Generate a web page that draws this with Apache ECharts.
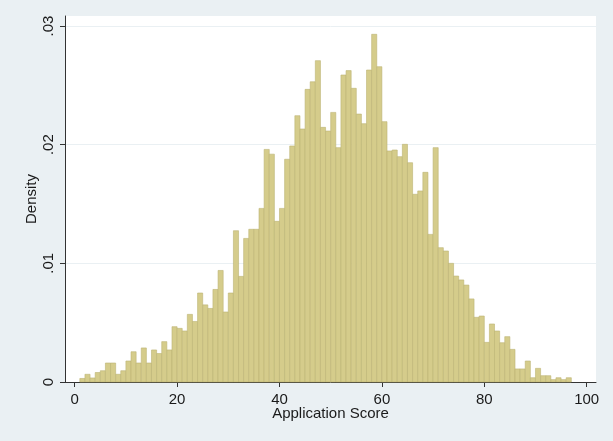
<!DOCTYPE html>
<html>
<head>
<meta charset="utf-8">
<script src="https://cdn.jsdelivr.net/npm/echarts@6/dist/echarts.min.js"></script>
<style>
html,body{margin:0;padding:0;background:#ffffff;}
#chart{width:613px;height:441px;}
</style>
</head>
<body>
<div id="chart"></div>
<script>
// Histogram bins: width 1, starting at each value below
const binStarts = [];
for (let k = 1; k <= 96; k++) binStarts.push(k);
const binWidth = 1;
const densities = [
  0.0003, 0.00065, 0.00034, 0.0008, 0.00095, 0.0016, 0.0016, 0.00065, 0.00095, 0.00177,
  0.00255, 0.0016, 0.00287, 0.0016, 0.0027, 0.0024, 0.0034, 0.0027, 0.00466, 0.00452,
  0.0043, 0.0057, 0.0051, 0.0075, 0.0065, 0.0062, 0.0078, 0.0094, 0.0059, 0.0075,
  0.01275, 0.0089, 0.0121, 0.01287, 0.01287, 0.01463, 0.0196, 0.0192, 0.01354, 0.01463,
  0.01877, 0.01989, 0.02244, 0.02132, 0.02466, 0.0253, 0.02708, 0.02146, 0.02115, 0.02272,
  0.01975, 0.02587, 0.02624, 0.02475, 0.02258, 0.02177, 0.02629, 0.0293, 0.02657, 0.02194,
  0.01947, 0.01955, 0.01899, 0.02003, 0.01848, 0.01582, 0.0161, 0.01767, 0.01244, 0.01975,
  0.01132, 0.01104, 0.01, 0.00893, 0.0086, 0.00817, 0.007, 0.00545, 0.00556, 0.00334,
  0.00489, 0.0043, 0.00331, 0.00382, 0.00275, 0.0011, 0.0011, 0.00177, 0.00036, 0.00115,
  0.00053, 0.00053, 0.0002, 0.00036, 0.0002, 0.00036
];
const xTicks = [0, 20, 40, 60, 80, 100];
const yTicks = [0, 0.01, 0.02, 0.03];
const yTickLabels = ['0', '.01', '.02', '.03'];
const xTitle = 'Application Score';
const yTitle = 'Density';

const data = binStarts.map((s, i) => [s, s + binWidth, densities[i]]);

const FONT = "'Liberation Sans', Arial, sans-serif";
const chart = echarts.init(document.getElementById('chart'));
chart.setOption({
  backgroundColor: '#eaf0f3',
  animation: false,
  grid: {
    left: 65, right: 17, top: 16, bottom: 59,
    show: true, backgroundColor: '#ffffff', borderWidth: 0
  },
  xAxis: {
    type: 'value',
    min: -1.895, max: 101.82,
    name: xTitle,
    nameLocation: 'middle',
    nameGap: 24,
    nameMoveOverlap: false,
    nameTextStyle: { fontFamily: FONT, fontSize: 15, color: '#1a1a1a' },
    axisLine: { show: true, onZero: false, lineStyle: { color: '#333', width: 1 } },
    axisTick: { show: true, length: 5, customValues: xTicks, lineStyle: { color: '#333' } },
    axisLabel: { customValues: xTicks, fontFamily: FONT, fontSize: 15, color: '#1a1a1a', margin: 10 },
    splitLine: { show: false }
  },
  yAxis: {
    type: 'value',
    min: 0, max: 0.030843,
    interval: 0.01,
    name: yTitle,
    nameLocation: 'middle',
    nameGap: 26,
    nameMoveOverlap: false,
    nameRotate: 90,
    nameTextStyle: { fontFamily: FONT, fontSize: 15, color: '#1a1a1a' },
    axisLine: { show: true, onZero: false, lineStyle: { color: '#333', width: 1 } },
    axisTick: { show: true, length: 5, customValues: yTicks, lineStyle: { color: '#333' } },
    axisLabel: {
      customValues: yTicks,
      rotate: 90,
      fontFamily: FONT, fontSize: 15, color: '#1a1a1a', margin: 9,
      formatter: function (v) {
        const i = yTicks.findIndex(t => Math.abs(t - v) < 1e-9);
        return i >= 0 ? yTickLabels[i] : '';
      }
    },
    splitLine: { show: true, lineStyle: { color: '#eaf0f3', width: 1 } }
  },
  series: [{
    type: 'custom',
    data: data,
    encode: { x: [0, 1], y: 2 },
    renderItem: function (params, api) {
      const p0 = api.coord([api.value(0), api.value(2)]);
      const p1 = api.coord([api.value(1), 0]);
      return {
        type: 'rect',
        shape: { x: p0[0], y: p0[1], width: p1[0] - p0[0], height: p1[1] - p0[1] },
        style: { fill: '#d5cc8b', stroke: '#bcb374', lineWidth: 0.6 }
      };
    }
  }]
});
</script>
</body>
</html>
